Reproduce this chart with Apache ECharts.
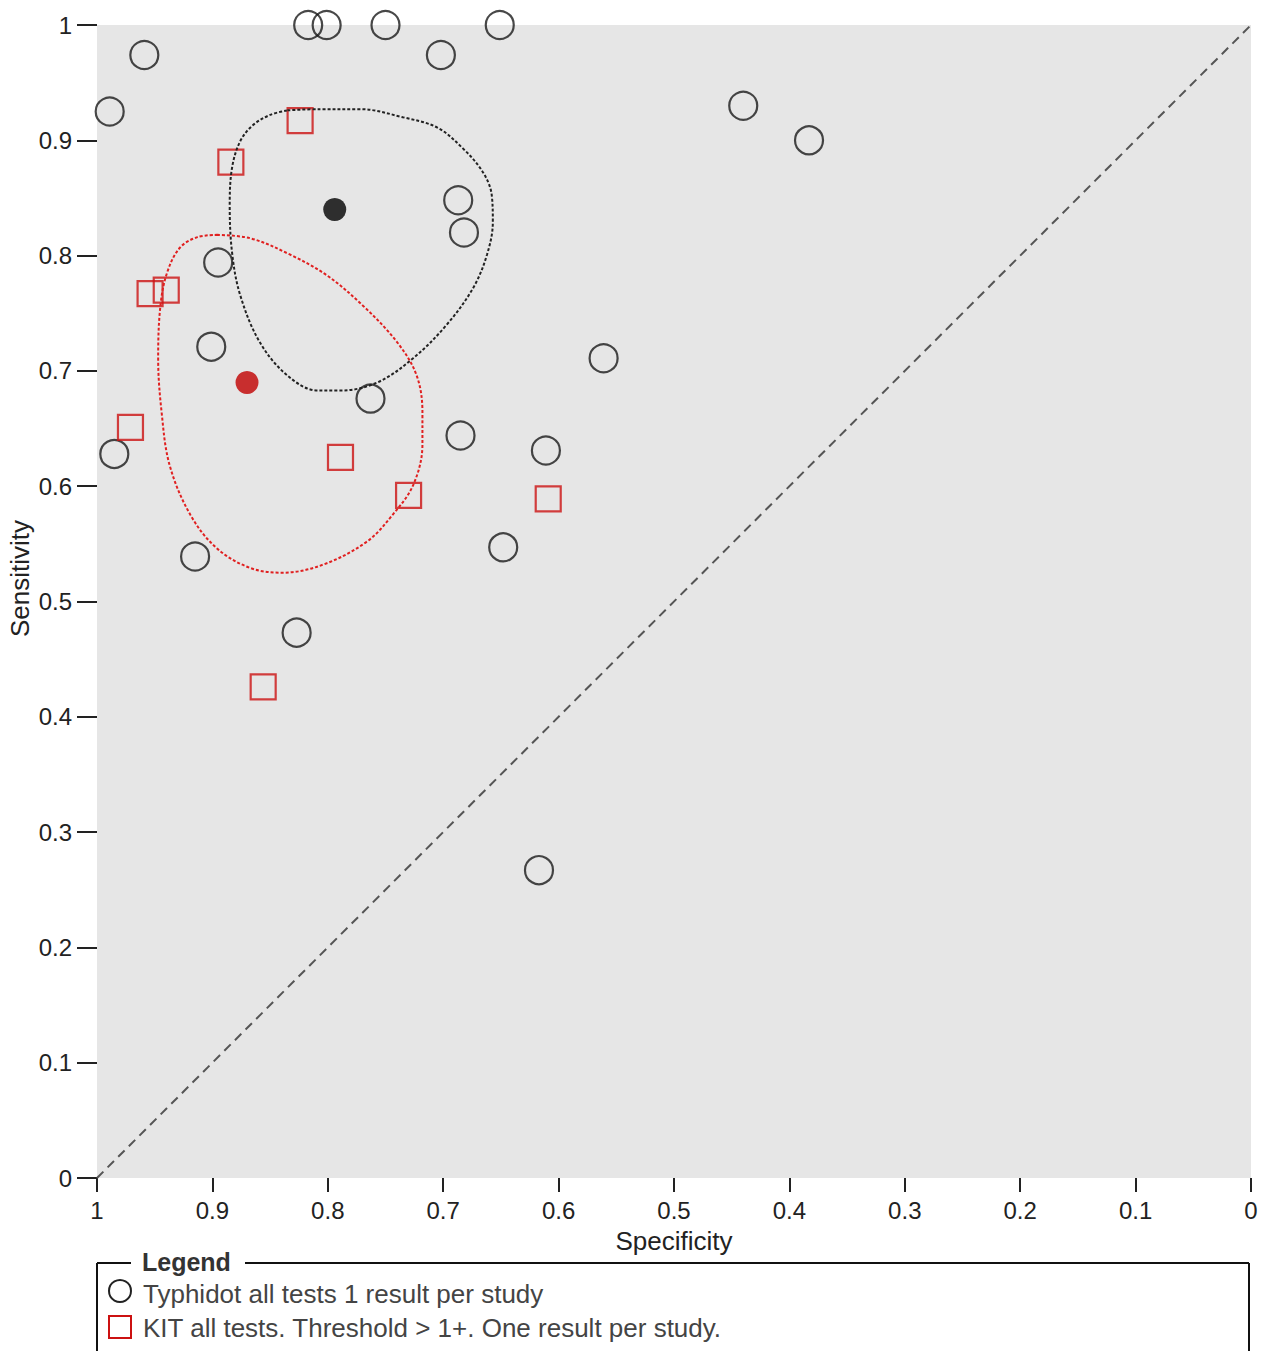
<!DOCTYPE html>
<html>
<head>
<meta charset="utf-8">
<script src="https://cdn.jsdelivr.net/npm/echarts@6/dist/echarts.min.js"></script>
<style>
html,body{margin:0;padding:0;background:#fff;}
#c{width:1261px;height:1351px;}
</style>
</head>
<body>
<div id="c"></div>
<script>
// ---- data ----
const typhidotName = 'Typhidot all tests 1 result per study';
const kitName = 'KIT all tests. Threshold > 1+. One result per study.';
const typhidotSpec = [0.989,0.959,0.817,0.801,0.750,0.651,0.702,0.440,0.383,0.687,0.682,0.895,0.901,0.763,0.561,0.685,0.611,0.985,0.915,0.648,0.827,0.617];
const typhidotSens = [0.925,0.974,1.000,1.000,1.000,1.000,0.974,0.930,0.900,0.848,0.820,0.794,0.721,0.676,0.711,0.644,0.631,0.628,0.539,0.547,0.473,0.267];
const kitSpec = [0.824,0.884,0.954,0.940,0.971,0.789,0.730,0.609,0.856];
const kitSens = [0.917,0.881,0.767,0.770,0.651,0.625,0.592,0.589,0.426];
const typhidotSummary = [0.794, 0.840];
const kitSummary = [0.870, 0.690];
const typhidotRegionSpec = [0.835,0.807,0.772,0.735,0.705,0.683,0.666,0.658,0.657,0.662,0.674,0.697,0.726,0.757,0.789,0.809,0.835,0.859,0.876,0.883,0.885,0.883,0.876,0.865,0.850];
const typhidotRegionSens = [0.926,0.927,0.927,0.920,0.911,0.893,0.873,0.853,0.829,0.801,0.772,0.740,0.711,0.690,0.683,0.683,0.696,0.725,0.766,0.803,0.844,0.876,0.899,0.913,0.922];
const kitRegionSpec = [0.896,0.867,0.833,0.801,0.770,0.740,0.723,0.718,0.718,0.726,0.744,0.766,0.804,0.839,0.867,0.896,0.919,0.937,0.944,0.947,0.945,0.939,0.928,0.913];
const kitRegionSens = [0.818,0.815,0.801,0.783,0.757,0.725,0.696,0.664,0.636,0.601,0.575,0.552,0.532,0.525,0.529,0.546,0.575,0.618,0.664,0.711,0.757,0.786,0.807,0.816];
const diagonal = [[1,0],[0,1]];

function pairs(xs, ys){ return xs.map((x,i)=>[x, ys[i]]); }
function loop(xs, ys){ const p = pairs(xs, ys); p.push(p[0]); return p; }

const FONT = '"Liberation Sans", Arial, sans-serif';
const chart = echarts.init(document.getElementById('c'), null, {renderer:'svg'});
chart.setOption({
  animation:false,
  backgroundColor:'#ffffff',
  grid:{left:97, top:25, width:1154, height:1153, show:true, backgroundColor:'#e6e6e6', borderWidth:0, containLabel:false},
  xAxis:{
    type:'value', min:0, max:1, interval:0.1, inverse:true, position:'bottom',
    name:'Specificity', nameLocation:'middle', nameGap:50,
    nameTextStyle:{fontFamily:FONT, fontSize:26, color:'#222'},
    axisLine:{show:false, onZero:false},
    axisTick:{show:true, length:14, lineStyle:{color:'#222', width:2}},
    axisLabel:{fontFamily:FONT, fontSize:24, color:'#222', margin:20, showMaxLabel:true, showMinLabel:true},
    splitLine:{show:false}
  },
  yAxis:{
    type:'value', min:0, max:1, interval:0.1, position:'left',
    axisLine:{show:false, onZero:false},
    axisTick:{show:true, length:20, lineStyle:{color:'#222', width:2}},
    axisLabel:{fontFamily:FONT, fontSize:24, color:'#222', margin:25},
    splitLine:{show:false}
  },
  graphic:[
    {type:'text', rotation:Math.PI/2, x:7, y:637, style:{text:'Sensitivity', fontFamily:FONT, fontSize:26, fill:'#222'}},
    {type:'line', shape:{x1:97,y1:1263,x2:131,y2:1263}, style:{stroke:'#111', lineWidth:2}},
    {type:'line', shape:{x1:245,y1:1263,x2:1249,y2:1263}, style:{stroke:'#111', lineWidth:2}},
    {type:'line', shape:{x1:97,y1:1263,x2:97,y2:1351}, style:{stroke:'#111', lineWidth:2}},
    {type:'line', shape:{x1:1249,y1:1263,x2:1249,y2:1351}, style:{stroke:'#111', lineWidth:2}},
    {type:'text', x:142, y:1249, style:{text:'Legend', fontFamily:FONT, fontSize:25, fontWeight:'bold', fill:'#333'}},
    {type:'circle', shape:{cx:120, cy:1291, r:11}, style:{fill:'none', stroke:'#222', lineWidth:2}},
    {type:'text', x:143, y:1281, style:{text:typhidotName, fontFamily:FONT, fontSize:26, fill:'#444'}},
    {type:'rect', shape:{x:109, y:1316, width:22, height:22}, style:{fill:'none', stroke:'#cc1111', lineWidth:2}},
    {type:'text', x:143, y:1315, style:{text:kitName, fontFamily:FONT, fontSize:26, fill:'#444'}}
  ],
  series:[
    {type:'line', data:diagonal, showSymbol:false, silent:true, z:1,
     lineStyle:{color:'#555', width:2, type:[9,6]}},
    {type:'line', data:loop(typhidotRegionSpec, typhidotRegionSens), smooth:0.35, showSymbol:false, z:3,
     lineStyle:{color:'#222', width:2, type:[3,2]}},
    {type:'line', data:loop(kitRegionSpec, kitRegionSens), smooth:0.35, showSymbol:false, z:3,
     lineStyle:{color:'#e02020', width:2, type:[3,2]}},
    {name:typhidotName, type:'scatter', data:pairs(typhidotSpec, typhidotSens), symbol:'circle', symbolSize:28, clip:false, z:2,
     itemStyle:{color:'rgba(0,0,0,0)', borderColor:'#1a1a1a', borderWidth:2.2}},
    {name:kitName, type:'scatter', data:pairs(kitSpec, kitSens), symbol:'rect', symbolSize:25, clip:false, z:2,
     itemStyle:{color:'rgba(0,0,0,0)', borderColor:'#cc1111', borderWidth:2.2}},
    {type:'scatter', data:[typhidotSummary], symbol:'circle', symbolSize:23, z:4,
     itemStyle:{color:'#000000'}},
    {type:'scatter', data:[kitSummary], symbol:'circle', symbolSize:23, z:4,
     itemStyle:{color:'#c00000'}}
  ]
});
</script>
</body>
</html>
